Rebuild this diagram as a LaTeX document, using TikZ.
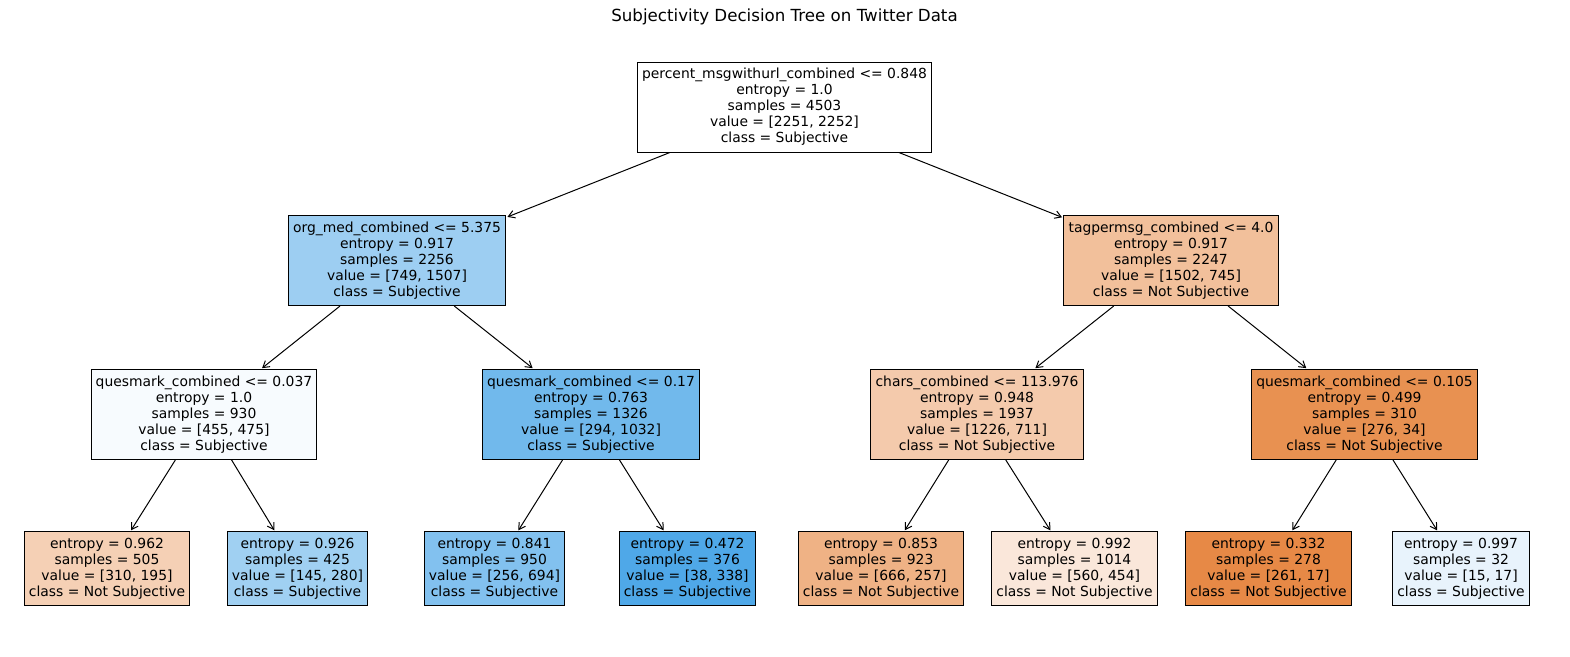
\documentclass[tikz,border=0pt]{standalone}
\usepackage{fontspec}
\setmainfont{DejaVu Sans}
\usetikzlibrary{arrows.meta}

% Farben der Knoten (Klasse und Reinheit)
\definecolor{ns1}{RGB}{242,192,155}
\definecolor{ns2}{RGB}{244,202,172}
\definecolor{ns3}{RGB}{232,145,81}
\definecolor{ns4}{RGB}{245,208,181}
\definecolor{ns5}{RGB}{239,178,133}
\definecolor{ns6}{RGB}{250,231,218}
\definecolor{ns7}{RGB}{231,137,70}
\definecolor{sb1}{RGB}{157,206,242}
\definecolor{sb2}{RGB}{247,251,254}
\definecolor{sb3}{RGB}{113,185,236}
\definecolor{sb4}{RGB}{160,208,242}
\definecolor{sb5}{RGB}{130,193,239}
\definecolor{sb6}{RGB}{79,168,232}
\definecolor{sb7}{RGB}{232,243,252}

\tikzset{
  treenode/.style={draw, rectangle, line width=0.72pt, align=center, inner xsep=3.4pt,
    font=\fontsize{10}{11.55}\selectfont, minimum height=64.8pt},
  leafnode/.style={treenode, minimum height=52.6pt},
  edge/.style={-{Straight Barb[length=4.5pt, width=5.5pt]}, line width=0.72pt, shorten >=1pt}
}

\begin{document}
\begin{tikzpicture}[x=0.72pt, y=-0.72pt]
	\useasboundingbox (0,0) rectangle (1570,656);
	
	% Titel
	\node[font=\fontsize{12}{14}\selectfont] (title) at (784.5,17) {Subjectivity Decision Tree on Twitter Data};
	
	% Wurzel
	\node[treenode, fill=white] (root) at (784.5,107) {percent\_msgwithurl\_combined <= 0.848\\entropy = 1.0\\samples = 4503\\value = [2251, 2252]\\class = Subjective};
	
	% Ebene 1
	\node[treenode, fill=sb1] (orgmed) at (397,260.5) {org\_med\_combined <= 5.375\\entropy = 0.917\\samples = 2256\\value = [749, 1507]\\class = Subjective};
	\node[treenode, fill=ns1] (tagper) at (1171,260.5) {tagpermsg\_combined <= 4.0\\entropy = 0.917\\samples = 2247\\value = [1502, 745]\\class = Not Subjective};
	
	% Ebene 2
	\node[treenode, fill=sb2] (quesa) at (204,414.5) {quesmark\_combined <= 0.037\\entropy = 1.0\\samples = 930\\value = [455, 475]\\class = Subjective};
	\node[treenode, fill=sb3] (quesb) at (591,414.5) {quesmark\_combined <= 0.17\\entropy = 0.763\\samples = 1326\\value = [294, 1032]\\class = Subjective};
	\node[treenode, fill=ns2] (chars) at (977,414.5) {chars\_combined <= 113.976\\entropy = 0.948\\samples = 1937\\value = [1226, 711]\\class = Not Subjective};
	\node[treenode, fill=ns3] (quesd) at (1364.5,414.5) {quesmark\_combined <= 0.105\\entropy = 0.499\\samples = 310\\value = [276, 34]\\class = Not Subjective};
	
	% Blaetter
	\node[leafnode, fill=ns4] (leafa) at (107,568.5) {entropy = 0.962\\samples = 505\\value = [310, 195]\\class = Not Subjective};
	\node[leafnode, fill=sb4] (leafb) at (297.5,568.5) {entropy = 0.926\\samples = 425\\value = [145, 280]\\class = Subjective};
	\node[leafnode, fill=sb5] (leafc) at (494.5,568.5) {entropy = 0.841\\samples = 950\\value = [256, 694]\\class = Subjective};
	\node[leafnode, fill=sb6] (leafd) at (687.5,568.5) {entropy = 0.472\\samples = 376\\value = [38, 338]\\class = Subjective};
	\node[leafnode, fill=ns5] (leafe) at (881,568.5) {entropy = 0.853\\samples = 923\\value = [666, 257]\\class = Not Subjective};
	\node[leafnode, fill=ns6] (leaff) at (1074.5,568.5) {entropy = 0.992\\samples = 1014\\value = [560, 454]\\class = Not Subjective};
	\node[leafnode, fill=ns7] (leafg) at (1268.5,568.5) {entropy = 0.332\\samples = 278\\value = [261, 17]\\class = Not Subjective};
	\node[leafnode, fill=sb7] (leafh) at (1461,568.5) {entropy = 0.997\\samples = 32\\value = [15, 17]\\class = Subjective};
	
	% Kanten
	\draw[edge] (root) -- (orgmed);
	\draw[edge] (root) -- (tagper);
	\draw[edge] (orgmed) -- (quesa);
	\draw[edge] (orgmed) -- (quesb);
	\draw[edge] (tagper) -- (chars);
	\draw[edge] (tagper) -- (quesd);
	\draw[edge] (quesa) -- (leafa);
	\draw[edge] (quesa) -- (leafb);
	\draw[edge] (quesb) -- (leafc);
	\draw[edge] (quesb) -- (leafd);
	\draw[edge] (chars) -- (leafe);
	\draw[edge] (chars) -- (leaff);
	\draw[edge] (quesd) -- (leafg);
	\draw[edge] (quesd) -- (leafh);
	
\end{tikzpicture}
\end{document}
